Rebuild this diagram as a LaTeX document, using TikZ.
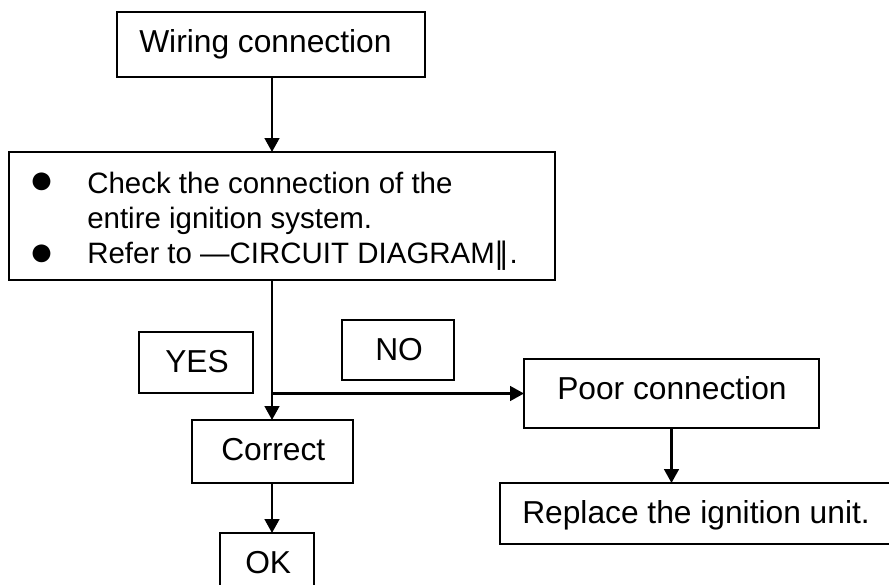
\documentclass[tikz,border=0pt]{standalone}
\usepackage{fontspec}
\setmainfont{Liberation Sans}
\newfontfamily\dvfont{DejaVu Sans}
\usetikzlibrary{arrows.meta}
\begin{document}
\begin{tikzpicture}[x=0.75pt,y=-0.75pt,
  box/.style={draw=black, line width=1.3pt, rectangle, inner sep=0pt, outer sep=0pt, anchor=north west},
  openbox/.style={rectangle, inner sep=0pt, outer sep=0pt, anchor=north west},
  txt/.style={anchor=base west, inner sep=0pt, font=\fontsize{23.8}{27}\selectfont},
  smalltxt/.style={anchor=base west, inner sep=0pt, font=\fontsize{22.1}{26}\selectfont},
  dot/.style={inner sep=0pt, font=\fontsize{31}{31}\selectfont},
  arr/.style={line width=2pt, -{Triangle[length=10.5pt,width=11pt]}}]
\useasboundingbox (0,0) rectangle (889,585);
\clip (0,0) rectangle (889,585);

% boxes (top-left corner, width and height in px)
\node[box, minimum width=308*0.75pt, minimum height=65*0.75pt]  (wire)    at (117,12)  {};
\node[box, minimum width=546*0.75pt, minimum height=128*0.75pt] (check)   at (9,152)   {};
\node[box, minimum width=114*0.75pt, minimum height=61*0.75pt]  (yes)     at (139,332) {};
\node[box, minimum width=112*0.75pt, minimum height=60*0.75pt]  (no)      at (342,320) {};
\node[box, minimum width=161*0.75pt, minimum height=63*0.75pt]  (correct) at (192,420) {};
\node[box, minimum width=94*0.75pt,  minimum height=80*0.75pt]  (ok)      at (220,533) {};
\node[box, minimum width=295*0.75pt, minimum height=69*0.75pt]  (poor)    at (524,359) {};
% last box runs off the right edge: only three sides drawn
\node[openbox, minimum width=480*0.75pt, minimum height=61*0.75pt] (replace) at (500,483) {};
\draw[line width=1.3pt] (replace.north east) -- (replace.north west)
  -- (replace.south west) -- (replace.south east);

% labels
\node[txt] (wire-t)    at (139,53)  {Wiring connection};
\node[dot] (b1)        at (42,183)  {●};
\node[dot] (b2)        at (42,255)  {●};
\node[smalltxt] (check-t1) at (87,193) {Check the connection of the};
\node[smalltxt] (check-t2) at (87,228) {entire ignition system.};
\node[smalltxt] (check-t3) at (87,263) {Refer to ―CIRCUIT DIAGRAM{\dvfont ‖}.};
\node[txt] (yes-t)     at (165,372) {YES};
\node[txt] (no-t)      at (375,360) {NO};
\node[txt] (correct-t) at (221,460) {Correct};
\node[txt] (ok-t)      at (245,573) {OK};
\node[txt] (poor-t)    at (557,399) {Poor connection};
\node[txt] (replace-t) at (522,523) {Replace the ignition unit.};

% connectors
\coordinate (trunk) at (272,0);
\coordinate (jn) at (trunk |- poor.west);
\draw[arr] (wire.south -| trunk) -- (check.north -| trunk);
\draw[arr] (check.south -| trunk) -- (correct.north -| trunk);
\draw[arr] (jn) -- (poor.west);
\draw[arr] (correct.south -| trunk) -- (ok.north -| trunk);
\draw[arr] (poor.south) -- (poor.south |- replace.north);
\end{tikzpicture}
\end{document}
